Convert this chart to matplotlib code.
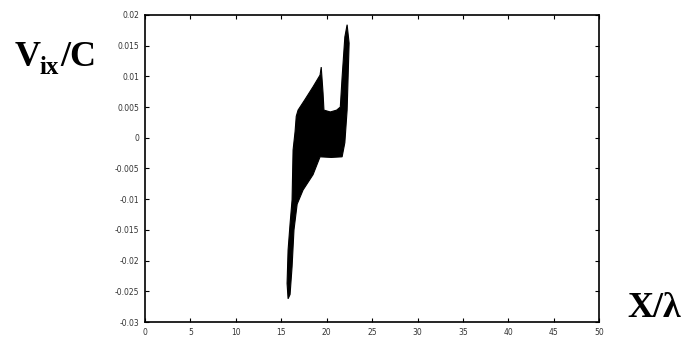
import matplotlib
matplotlib.use("Agg")
import matplotlib.pyplot as plt

# outline of the dense particle cloud (x in lambda, Vix/C), traced clockwise from the bottom tip
cloud_x = [15.75, 15.64, 15.75, 15.97, 16.19, 16.30, 16.52, 16.65,
           16.85, 17.6, 18.5, 19.27, 19.4, 19.6, 19.7, 20.4, 21.1, 21.5,
           21.7, 22.0, 22.25, 22.47, 22.36, 22.25, 22.0, 21.7, 20.5, 19.27,
           18.5, 17.4, 16.75, 16.40, 16.19, 15.97]
cloud_y = [-0.0262, -0.0237, -0.0183, -0.0140, -0.0101, -0.0020, 0.0010, 0.0035,
           0.0045, 0.0062, 0.0083, 0.0102, 0.0115, 0.0073, 0.0045, 0.0042, 0.0045, 0.0050,
           0.0099, 0.0164, 0.0184, 0.0154, 0.0099, 0.0045, -0.0008, -0.0031, -0.0032, -0.0031,
           -0.0060, -0.0085, -0.0108, -0.0150, -0.0210, -0.0255]

x_ticks = [0, 5, 10, 15, 20, 25, 30, 35, 40, 45, 50]
y_ticks = [-0.03, -0.025, -0.02, -0.015, -0.01, -0.005, 0, 0.005, 0.01, 0.015, 0.02]
y_labels = ["-0.03", "-0.025", "-0.02", "-0.015", "-0.01", "-0.005",
            "0", "0.005", "0.01", "0.015", "0.02"]

W, H = 684, 338
fig = plt.figure(figsize=(W / 100, H / 100), dpi=100)
ax = fig.add_axes([0.212, 0.047, 0.664, 0.909])

ax.fill(cloud_x, cloud_y, color='black', linewidth=0.8, edgecolor='black')

ax.set_xlim(0, 50)
ax.set_ylim(-0.03, 0.02)
ax.set_xticks(x_ticks)
ax.set_xticklabels([str(t) for t in x_ticks])
ax.set_yticks(y_ticks)
ax.set_yticklabels(y_labels)
ax.tick_params(direction='in', length=3, width=0.8, top=True, right=True,
               labelsize=5.5, pad=4, colors='black', labelcolor='#333333')
for s in ax.spines.values():
    s.set_linewidth(1.2)

# axis titles placed by pixel, like the original
lab = dict(family='Liberation Serif', fontweight='bold', ha='left', va='baseline')
fig.text(15 / W, 1 - 66 / H, 'V', fontsize=26, **lab)
fig.text(40 / W, 1 - 74 / H, 'ix', fontsize=18, **lab)
fig.text(60 / W, 1 - 66 / H, '/C', fontsize=26, **lab)
fig.text(627 / W, 1 - 317 / H, 'X/λ', fontsize=26, **lab)

fig.savefig("out.png", dpi=100)
